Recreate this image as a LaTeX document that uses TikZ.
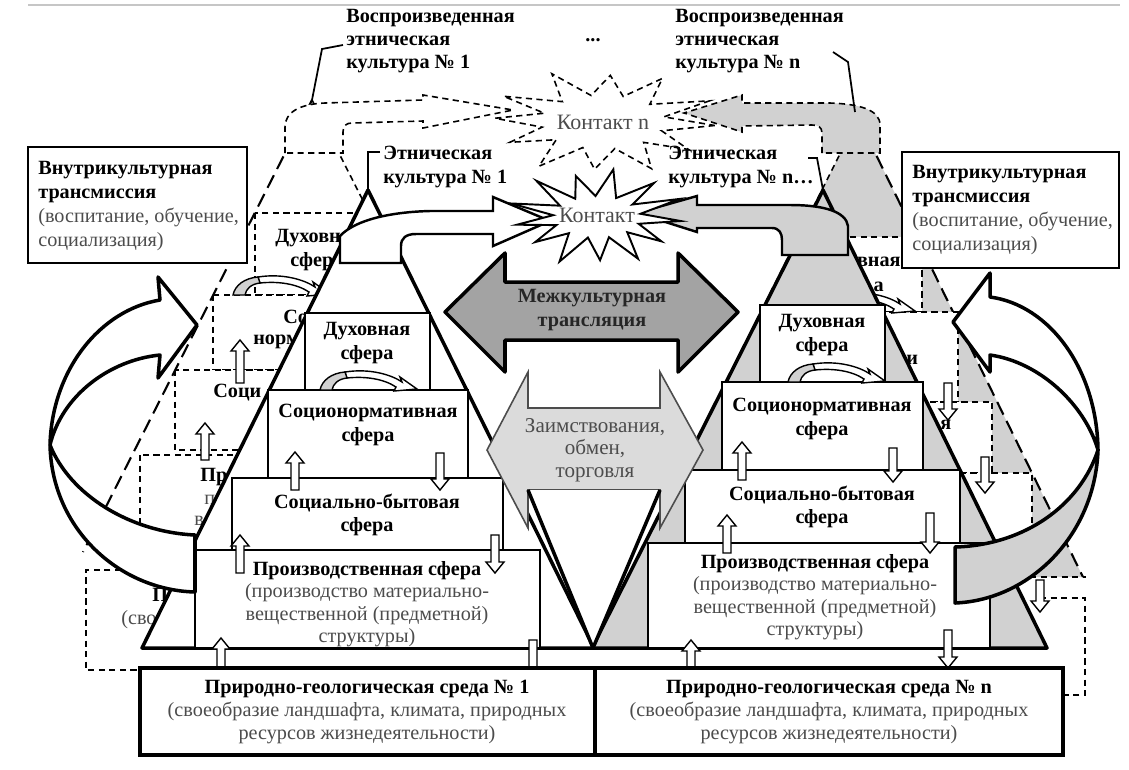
\documentclass[tikz,border=0pt]{standalone}
\usepackage{fontspec}
\setmainfont{Liberation Serif}
\definecolor{pg}{gray}{0.82}
\definecolor{dg}{gray}{0.64}
\definecolor{lg}{gray}{0.86}
\definecolor{tg}{gray}{0.30}
\newcommand\fnt{\fontsize{11.5}{13.3}\selectfont}
\newcommand\rg[1]{\textcolor{tg}{\mdseries #1}}
\newcommand\upArr[3]{\draw[sa] (#1-4,#3) -- (#1-4,#2+11) -- (#1-9,#2+11) -- (#1,#2) -- (#1+9,#2+11) -- (#1+4,#2+11) -- (#1+4,#3) -- cycle;}
\newcommand\dnArr[3]{\draw[sa] (#1-4,#2) -- (#1-4,#3-11) -- (#1-9,#3-11) -- (#1,#3) -- (#1+9,#3-11) -- (#1+4,#3-11) -- (#1+4,#2) -- cycle;}
\newcommand\cycArr[2]{\begin{scope}[shift={(#1,#2)}]
 \draw[line width=0.8pt, fill=white] (25,-18) .. controls (50,-22) and (72,-15) .. (82,-8) -- (80,-13) -- (97,-1) -- (74,1) -- (76,-3) .. controls (64,-11) and (46,-14) .. (27,-12) -- cycle;
 \draw[line width=0.8pt, fill=pg] (0,0) .. controls (2,-10) and (12,-17) .. (25,-18) -- (27,-12) .. controls (18,-11) and (13,-6) .. (12,0) -- cycle;
\end{scope}}
\begin{document}
\begin{tikzpicture}[x=0.02cm,y=-0.02cm, font=\fnt,
 po/.style={draw=black, line width=2pt, line join=round},
 bx/.style={draw=black, line width=1.4pt, fill=white},
 ebx/.style={draw=black, line width=2.2pt, fill=white},
 gb/.style={draw=black, line width=0.9pt, dash pattern=on 3.5pt off 2.5pt},
 gl/.style={draw=black, line width=1.2pt, dash pattern=on 8pt off 4pt},
 sa/.style={draw=black, line width=0.8pt, fill=white},
 tl/.style={inner sep=0pt, align=center, font=\fnt\bfseries},
 tr/.style={inner sep=0pt, align=center, font=\fnt, text=tg},
 fw/.style={inner sep=0pt, anchor=west, font=\fnt\bfseries},
 fe/.style={inner sep=0pt, anchor=east, font=\fnt\bfseries},
 cl/.style={draw=black, line width=1pt}]
\useasboundingbox (0,0) rectangle (1129,769);
\draw[gray!45, line width=0.8pt] (28,5) -- (1120,5);
\coordinate (apL) at (368,190);
\coordinate (apR) at (823,190);
\coordinate (gapL) at (312,100);
\coordinate (gapR) at (858,118);

%% ===== right ghost culture =====
\path[fill=pg] (gapR) -- (1083,577) -- (628,577) -- cycle;
\draw[gl] (gapR) -- (1083,577);
\draw[gb] (gapR) -- (628,577);
\draw[gb] (1030,577) -- (1086,577);
\draw[gb, fill=white] (790,237) rectangle (922,312);
\draw[gb, fill=white] (800,312) rectangle (958,402);
\draw[gb, fill=white] (800,402) rectangle (992,473);
\draw[gb, fill=white] (800,473) rectangle (1032,577);
\draw[gb] (1040,598) -- (1085,598) -- (1085,695) -- (1063,695);
\node[fe] (gRd1) at (901,262) {вная};
\node[fe] (gRd2) at (884,287) {а};
\node[fw] (gRs) at (906,360) {и};
\node[fw] (gRb) at (940,425) {я};
\cycArr{818}{312}
\dnArr{948}{383}{420}
\dnArr{985}{457}{493}
\dnArr{1040}{580}{612}

%% ===== left ghost culture =====
\path[fill=white] (gapL) -- (541,552) -- (83,552) -- cycle;
\draw[gl] (gapL) -- (83,552);
\draw[gb] (gapL) -- (541,552);
\draw[gb, fill=white] (255,213) rectangle (380,295);
\draw[gb, fill=white] (213,295) rectangle (410,370);
\draw[gb, fill=white] (175,370) rectangle (450,450);
\draw[gb, fill=white] (140,455) rectangle (485,552);
\path[fill=white] (86,570) rectangle (300,670);
\draw[gb] (300,570) -- (86,570) -- (86,670) -- (140,670);
\node[fw] (gLd1) at (275,238) {Духовн};
\node[fw] (gLd2) at (290,262) {сфер};
\node[fw] (gLs1) at (283,317) {Со};
\node[fw] (gLs2) at (253,342) {норм};
\node[fw] (gLb) at (213,393) {Соци};
\node[fw] (gLp1) at (200,477) {Пр};
\node[fw, font=\fnt, text=tg] (gLp2) at (204,500) {п};
\node[fw, font=\fnt, text=tg] (gLp3) at (194,521) {в};
\node[fw] (gLe1) at (152,595) {П};
\node[fw, font=\fnt, text=tg] (gLe2) at (121,620) {(сво};
\cycArr{233}{295}
\upArr{240}{340}{383}
\upArr{205}{423}{460}

%% ghost contact arrows
\draw[gb, fill=white] (285,153) -- (285,127) .. controls (285,112) and (300,104) .. (325,103) -- (423,100) -- (423,95) -- (513,110) -- (423,128) -- (423,121) -- (352,123) .. controls (346,123) and (343,126) .. (343,132) -- (343,153) -- cycle;
\draw[gb, fill=pg] (822,153) -- (822,133) .. controls (822,127) and (818,125) .. (812,125) -- (742,126) -- (742,132) -- (684,113) -- (742,95) -- (742,103) -- (830,103) .. controls (860,104) and (880,110) .. (880,125) -- (880,153) -- cycle;
\draw[gb] plot[samples at={0,...,23}, variable=\k] ({603+cos(\k*15+4)*(mod(\k,2)==0 ? 112*(1+0.08*sin(\k*137)) : 62)}, {122+sin(\k*15+4)*(mod(\k,2)==0 ? 50*(1+0.08*sin(\k*97)) : 27)}) -- cycle;
\node[font=\fontsize{12.5}{14}\selectfont, text=tg] (kn) at (603,122) {Контакт n};

%% callouts
\draw[cl] (343,45) -- (322,49) -- (gapL);
\draw[cl] (833,52) -- (848,62) -- (855,112);
\draw[cl] (380,152) -- (368,152) -- (apL);
\draw[cl] (808,158) -- (817,158) -- (apR);

%% ===== solid pyramids =====
\draw[po, fill=white] (apL) -- (594,648) -- (142,648) -- cycle;
\draw[po, fill=pg] (apR) -- (1047,648) -- (592,648) -- cycle;
\draw[bx] (305,313) rectangle (430,390);
\draw[bx] (268,390) rectangle (468,478);
\draw[bx] (232,478) rectangle (503,550);
\draw[bx] (195,550) rectangle (540,648);
\draw[bx] (760,305) rectangle (885,382);
\draw[bx] (722,382) rectangle (923,470);
\draw[bx] (685,470) rectangle (960,543);
\draw[bx] (648,543) rectangle (990,648);
\node[tl] (Ld) at (367,343) {Духовная\\сфера};
\node[tl] (Ls) at (368,425) {Соционормативная\\сфера};
\node[tl] (Lb) at (367,515) {Социально-бытовая\\сфера};
\node[tl, font=\fontsize{11.5}{12.8}\selectfont\bfseries] (Lp) at (367,604) {Производственная сфера\\\rg{(производство материально-}\\\rg{вещественной (предметной)}\\\rg{структуры)}};
\node[tl] (Rd) at (822,335) {Духовная\\сфера};
\node[tl] (Rs) at (822,419) {Соционормативная\\сфера};
\node[tl] (Rb) at (822,507) {Социально-бытовая\\сфера};
\node[tl, font=\fontsize{11.5}{12.8}\selectfont\bfseries] (Rp) at (815,597) {Производственная сфера\\\rg{(производство материально-}\\\rg{вещественной (предметной)}\\\rg{структуры)}};
\cycArr{320}{390}
\cycArr{788}{382}
\upArr{295}{452}{490}
\upArr{240}{535}{573}
\upArr{221}{638}{678}
\dnArr{440}{453}{490}
\dnArr{495}{535}{573}
\dnArr{533}{640}{678}
\upArr{742}{442}{480}
\upArr{727}{515}{553}
\upArr{691}{640}{678}
\dnArr{893}{448}{482}
\dnArr{930}{513}{553}
\dnArr{948}{630}{668}

%% solid contact arrows
\draw[bx] (340,263) -- (401,263) -- (401,246) .. controls (401,238) and (406,234) .. (416,234) -- (493,234) -- (493,246) -- (550,221) -- (493,197) -- (493,211) -- (430,211) .. controls (390,212) and (355,220) .. (340,236) -- cycle;
\draw[bx, fill=pg] (782,255) -- (848,255) -- (848,226) .. controls (846,212) and (825,205) .. (790,205) -- (697,205) -- (697,196) -- (637,213) -- (697,232) -- (697,228) -- (772,228) .. controls (779,228) and (782,233) .. (782,240) -- cycle;
\draw[draw=black, line width=1.1pt, fill=white] plot[samples at={0,...,25}, variable=\k] ({597+cos(\k*360/26+5)*(mod(\k,2)==0 ? 84*(1+0.09*sin(\k*137)) : 44)}, {217+sin(\k*360/26+5)*(mod(\k,2)==0 ? 46*(1+0.09*sin(\k*97)) : 21)}) -- cycle;
\node[font=\fontsize{12.5}{14}\selectfont, text=tg] (k1) at (597,215) {Контакт};

%% intercultural arrows
\draw[po, fill=dg] (445,312) -- (505,253) -- (505,282) -- (678,282) -- (678,253) -- (738,312) -- (678,372) -- (678,340) -- (505,340) -- (505,372) -- cycle;
\node[tl, text=black!85] (mk) at (592,310) {Межкультурная\\трансляция};
\draw[draw=gray!60!black, line width=0.9pt, fill=lg] (487,450) -- (528,372) -- (528,408) -- (660,408) -- (660,372) -- (703,450) -- (660,528) -- (660,490) -- (528,490) -- (528,528) -- cycle;
\node[tr, font=\fontsize{12}{12.8}\selectfont] (zo) at (595,450) {Заимствования,\\обмен,\\торговля};
\fill[white] (528,490) -- (593,648) -- (660,490) -- cycle;
\draw[po] (528,490) -- (593,648) -- (660,490);

%% environments
\draw[ebx] (140,668) rectangle (595,755);
\draw[ebx] (595,668) rectangle (1063,755);
\node[tl] (e1) at (367,712) {Природно-геологическая среда № 1\\\rg{(своеобразие ландшафта, климата, природных}\\\rg{ресурсов жизнедеятельности)}};
\node[tl] (en) at (829,712) {Природно-геологическая среда № n\\\rg{(своеобразие ландшафта, климата, природных}\\\rg{ресурсов жизнедеятельности)}};

%% big transmission arrows
\draw[po, fill=white] (197,325) -- (158,277) -- (160,300) .. controls (100,310) and (52,370) .. (50,445) .. controls (52,530) and (120,590) .. (195,592) -- (195,535) .. controls (130,532) and (70,495) .. (50,445) .. controls (62,395) and (110,360) .. (160,355) -- (158,378) -- cycle;
\draw[po, fill=pg] (1098,450) .. controls (1095,535) and (1030,600) .. (955,603) -- (955,547) .. controls (1025,545) and (1080,505) .. (1098,450) -- cycle;
\draw[po, fill=white] (953,322) -- (990,273) -- (990,297) .. controls (1050,305) and (1097,370) .. (1098,450) .. controls (1085,405) and (1040,362) .. (990,355) -- (990,372) -- cycle;

%% intracultural boxes
\draw[bx] (28,147) rectangle (247,263);
\draw[bx] (902,152) rectangle (1119,268);
\node[tl, anchor=west, align=left, font=\fontsize{11.5}{13.6}\selectfont\bfseries] (int1) at (38,206) {Внутрикультурная\\трансмиссия\\\rg{(воспитание, обучение,}\\\rg{социализация)}};
\node[tl, anchor=west, align=left, font=\fontsize{11.5}{13.6}\selectfont\bfseries] (intn) at (912,210) {Внутрикультурная\\трансмиссия\\\rg{(воспитание, обучение,}\\\rg{социализация)}};

%% top labels
\node[tl, anchor=west, align=left] (rep1) at (346,41) {Воспроизведенная\\этническая\\культура № 1};
\node[tl] (dots) at (593,40) {...};
\node[tl, anchor=west, align=left] (repn) at (675,41) {Воспроизведенная\\этническая\\культура № n};
\node[tl, anchor=west, align=left] (et1) at (383,167) {Этническая\\культура № 1};
\node[tl, anchor=west, align=left] (etn) at (668,167) {Этническая\\культура № n…};
\end{tikzpicture}
\end{document}
